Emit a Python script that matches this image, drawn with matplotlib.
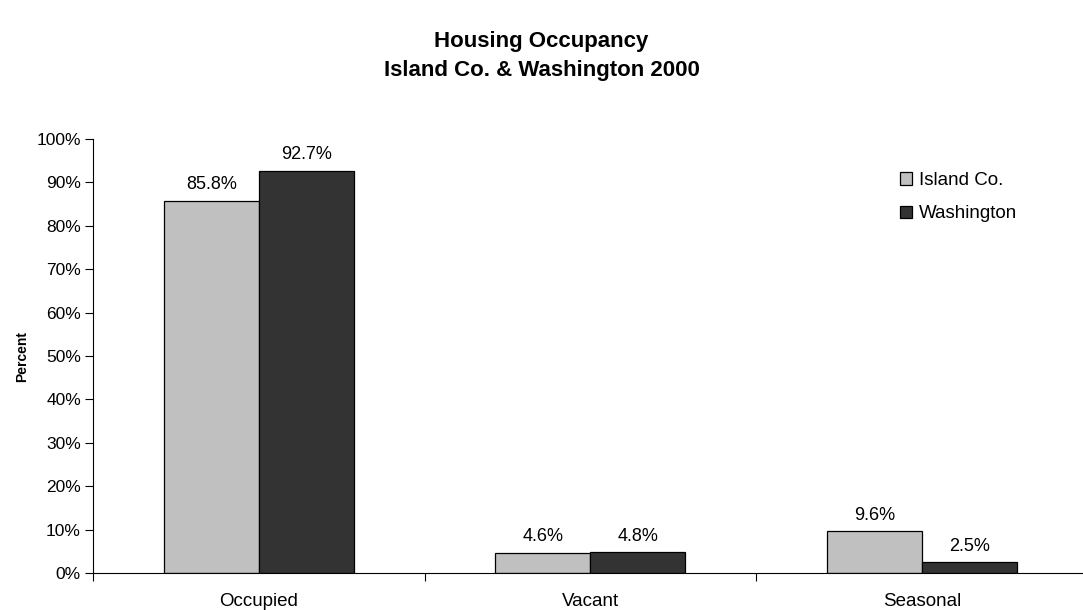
import numpy as np
import matplotlib
matplotlib.use("Agg")
import matplotlib.pyplot as plt
from matplotlib.ticker import FixedLocator, PercentFormatter

plt.rcParams['font.family'] = ['Liberation Sans', 'DejaVu Sans']

categories = ["Occupied", "Vacant", "Seasonal"]
island = [85.8, 4.6, 9.6]
washington = [92.7, 4.8, 2.5]
series_names = ["Island Co.", "Washington"]

fig = plt.figure(figsize=(10.83, 6.10), dpi=100)
ax = fig.add_axes([93 / 1083, 37 / 610, 994.5 / 1083, 434 / 610])

x = np.arange(len(categories))
w = 0.2866
b1 = ax.bar(x - w / 2, island, w, color="#c0c0c0", edgecolor="black", linewidth=0.9, label=series_names[0])
b2 = ax.bar(x + w / 2, washington, w, color="#333333", edgecolor="black", linewidth=0.9, label=series_names[1])

# value labels above each bar
for bars, vals in [(b1, island), (b2, washington)]:
    for r, v in zip(bars, vals):
        ax.annotate(f"{v:.1f}%", (r.get_x() + r.get_width() / 2, v),
                    xytext=(0, 5.5), textcoords="offset points",
                    ha="center", va="bottom", fontsize=13)

ax.set_xlim(-0.5, len(categories) - 0.5)
ax.set_ylim(0, 100)
ax.set_yticks(np.arange(0, 101, 10))
ax.yaxis.set_major_formatter(PercentFormatter(decimals=0))
ax.set_xticks(x)
ax.set_xticklabels(categories, fontsize=13.5)
ax.xaxis.set_minor_locator(FixedLocator(np.arange(-0.5, len(categories), 1)))
ax.tick_params(axis="x", which="major", length=0, pad=14.5)
ax.tick_params(axis="x", which="minor", length=5.8, width=0.8, direction="out")
ax.tick_params(axis="y", length=5.8, width=0.8, labelsize=12.5, pad=2.9)

for s in ["top", "right"]:
    ax.spines[s].set_visible(False)
ax.spines["left"].set_linewidth(0.8)
ax.spines["bottom"].set_linewidth(0.8)

ax.set_ylabel("Percent", fontsize=10, fontweight="bold", labelpad=5)

fig.text(0.5, 1 - 56 / 610, "Housing Occupancy\nIsland Co. & Washington 2000",
         fontsize=16, fontweight="bold", ha="center", va="center",
         multialignment="center", linespacing=1.5)

ax.legend(loc="upper left", bbox_to_anchor=(900 / 1083, 1 - 172 / 610),
          bbox_transform=fig.transFigure, frameon=False, borderpad=0,
          borderaxespad=0, fontsize=13.5, handlelength=0.64, handleheight=0.64,
          handletextpad=0.37, labelspacing=0.87)

fig.savefig("out.png", dpi=100)
